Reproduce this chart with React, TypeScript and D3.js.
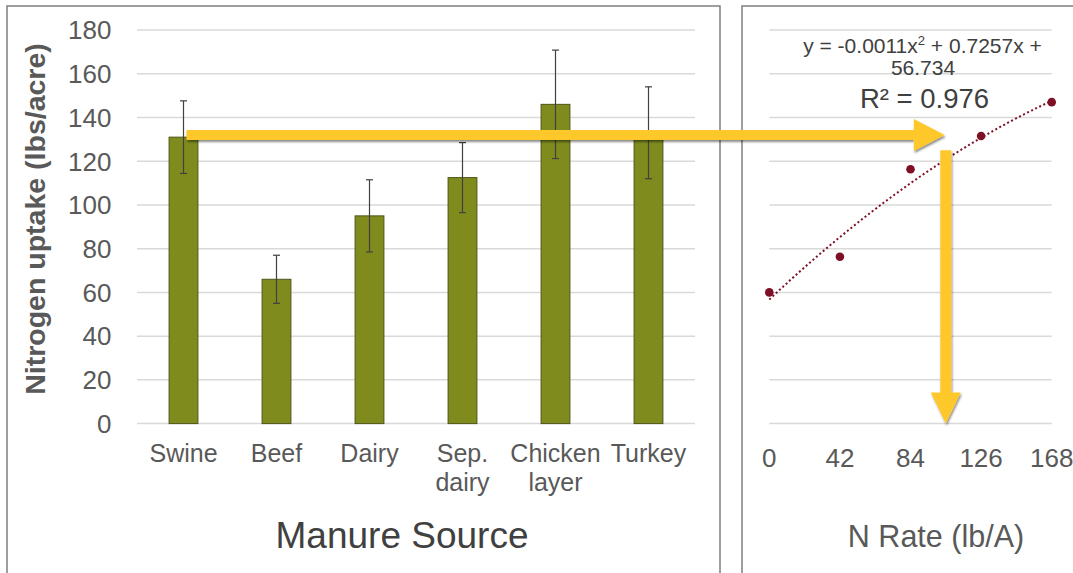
import * as d3 from "d3";

// bar chart data
const categories = ["Swine", "Beef", "Dairy", "Sep. dairy", "Chicken layer", "Turkey"];
const uptake = [131, 66, 95, 112.5, 146, 133];
const uptakeErr = [16.6, 11, 16.5, 16, 24.8, 21];
const yTicks = [0, 20, 40, 60, 80, 100, 120, 140, 160, 180];

// N rate response data
const nRates = [0, 42, 84, 126, 168];
const nUptake = [60, 76.3, 116.3, 131.5, 147];
const fitCoef = [56.734, 0.7257, -0.0011];

// arrow annotation: read uptake of swine across to N rate
const arrowUptake = 132;
const arrowN = 105;

const W = 1073;
const H = 573;
const gray = "#595959";
const gridColor = "#d9d9d9";
const barColor = "#808b1d";
const yellow = "#FFC82C";
const dotColor = "#7d1024";
const font = "Liberation Sans, Arial, sans-serif";

export default function App() {
  const y = d3.scaleLinear().domain([0, 180]).range([423.6, 30]);
  const x = d3.scaleBand().domain(categories).range([137, 695]).paddingInner(0.69).paddingOuter(0.345);
  const xr = d3.scaleLinear().domain([0, 168]).range([769.3, 1051.7]);

  const fit = (n: number) => fitCoef[0] + fitCoef[1] * n + fitCoef[2] * n * n;
  const fitLine = d3
    .line<number>()
    .x((n) => xr(n))
    .y((n) => y(fit(n)))(d3.range(0, 168.5, 2));

  // horizontal arrow
  const ay = y(arrowUptake);
  const ax0 = x("Swine")! + x.bandwidth() / 2 + 3;
  const ax1 = xr(arrowN) - 1;
  const hArrow = `M${ax0},${ay - 5}L${ax1 - 31},${ay - 5}L${ax1 - 31},${ay - 16}L${ax1},${ay}L${ax1 - 31},${ay + 16}L${ax1 - 31},${ay + 5}L${ax0},${ay + 5}Z`;
  // vertical arrow
  const vx = xr(arrowN);
  const vy0 = y(125);
  const vy1 = y(0);
  const vArrow = `M${vx - 5.5},${vy0}L${vx + 5.5},${vy0}L${vx + 5.5},${vy1 - 31}L${vx + 15},${vy1 - 31}L${vx},${vy1}L${vx - 15},${vy1 - 31}L${vx - 5.5},${vy1 - 31}Z`;

  return (
    <svg
      width={W}
      height={H}
      style={{ position: "absolute", left: 0, top: 0, background: "#fff" }}
      fontFamily={font}
    >
      <defs>
        <filter id="shadow" x="-5%" y="-20%" width="110%" height="160%">
          <feDropShadow dx="1" dy="2" stdDeviation="1.2" floodColor="#000" floodOpacity="0.45" />
        </filter>
      </defs>
      <rect width={W} height={H} fill="#fff" />

      {/* panel frames */}
      <rect x={7} y={6} width={713} height={600} fill="none" stroke="#7f7f7f" strokeWidth={1.5} />
      <rect x={742} y={6} width={400} height={600} fill="none" stroke="#7f7f7f" strokeWidth={1.5} />

      {/* left gridlines + ticks */}
      {yTicks.map((t) => (
        <g key={t}>
          <line x1={137} x2={695} y1={y(t)} y2={y(t)} stroke={gridColor} strokeWidth={1.5} />
          <text x={111.5} y={y(t)} dy="0.36em" textAnchor="end" fontSize={26} fill={gray}>
            {t}
          </text>
        </g>
      ))}

      {/* bars */}
      {categories.map((c, i) => (
        <rect
          key={c}
          x={x(c)}
          y={y(uptake[i])}
          width={x.bandwidth()}
          height={y(0) - y(uptake[i])}
          fill={barColor}
          stroke="#4f5418"
          strokeWidth={1}
        />
      ))}

      {/* error bars */}
      {categories.map((c, i) => {
        const cx = x(c)! + x.bandwidth() / 2;
        const top = y(uptake[i] + uptakeErr[i]);
        const bot = y(uptake[i] - uptakeErr[i]);
        return (
          <g key={c} stroke="#404040" strokeWidth={1.2}>
            <line x1={cx} x2={cx} y1={top} y2={bot} />
            <line x1={cx - 3.5} x2={cx + 3.5} y1={top} y2={top} />
            <line x1={cx - 3.5} x2={cx + 3.5} y1={bot} y2={bot} />
          </g>
        );
      })}

      {/* category labels */}
      {categories.map((c) => {
        const cx = x(c)! + x.bandwidth() / 2;
        const parts = c === "Sep. dairy" ? ["Sep.", "dairy"] : c === "Chicken layer" ? ["Chicken", "layer"] : [c];
        return (
          <text key={c} x={cx} y={462} textAnchor="middle" fontSize={25} fill={gray}>
            {parts.map((p, j) => (
              <tspan key={p} x={cx} dy={j === 0 ? 0 : 29}>
                {p}
              </tspan>
            ))}
          </text>
        );
      })}

      <text
        transform={`translate(45,${219}) rotate(-90)`}
        textAnchor="middle"
        fontSize={28.5}
        fontWeight="bold"
        fill={gray}
      >
        Nitrogen uptake (lbs/acre)
      </text>
      <text x={402} y={548} textAnchor="middle" fontSize={37} fill="#404040">
        Manure Source
      </text>

      {/* right panel gridlines */}
      {yTicks.map((t) => (
        <line key={t} x1={769.3} x2={1051.7} y1={y(t)} y2={y(t)} stroke={gridColor} strokeWidth={1.5} />
      ))}
      {nRates.map((n) => (
        <text key={n} x={xr(n)} y={467} textAnchor="middle" fontSize={26} fill={gray}>
          {n}
        </text>
      ))}
      <text x={936} y={547} textAnchor="middle" fontSize={30.5} fill={gray}>
        N Rate (lb/A)
      </text>

      {/* trend line and points */}
      <path d={fitLine ?? ""} fill="none" stroke={dotColor} strokeWidth={2} strokeDasharray="2,2.5" />
      {nRates.map((n, i) => (
        <circle key={n} cx={xr(n)} cy={y(nUptake[i])} r={4.3} fill={dotColor} />
      ))}

      <text x={922.5} y={53} textAnchor="middle" fontSize={21} fill="#404040">
        y = -0.0011x<tspan dy={-8} fontSize={13}>2</tspan>
        <tspan dy={8}> + 0.7257x +</tspan>
      </text>
      <text x={923} y={75} textAnchor="middle" fontSize={21} fill="#404040">
        56.734
      </text>
      <text x={924.5} y={108} textAnchor="middle" fontSize={27.5} fill="#404040">
        R² = 0.976
      </text>

      {/* arrows */}
      <path d={hArrow} fill={yellow} filter="url(#shadow)" />
      <path d={vArrow} fill={yellow} filter="url(#shadow)" />
    </svg>
  );
}
